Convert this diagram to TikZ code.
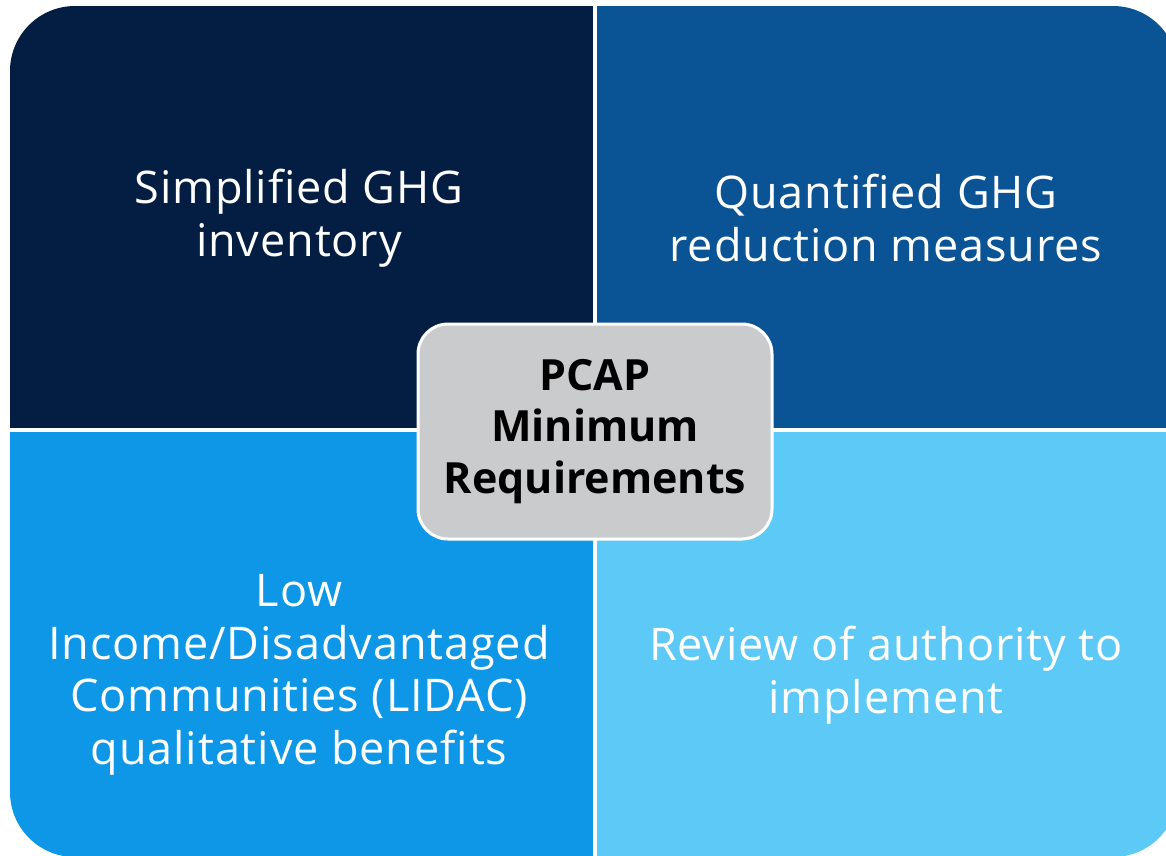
\documentclass[tikz,border=0pt]{standalone}
\usepackage{fontspec}
\setmainfont[Ligatures={NoCommon}]{Open Sans}
\newfontfamily\quadfont[Ligatures={NoCommon},LetterSpace=2]{Open Sans}
\definecolor{qnavy}{HTML}{031E42}
\definecolor{qblue}{HTML}{0A5395}
\definecolor{qmid}{HTML}{0E97E7}
\definecolor{qlight}{HTML}{5CC9F6}
\definecolor{cgray}{HTML}{CACBCD}
\tikzset{
  qtext/.style={text=white, font=\quadfont\fontsize{45}{52.5}\selectfont, align=center, inner sep=0pt},
  centerbox/.style={draw=white, line width=3pt, fill=cgray, rounded corners=30pt,
    minimum width=354pt, minimum height=215pt, align=center,
    font=\bfseries\fontsize{43}{51.5}\selectfont, text=black, inner sep=0pt},
  divider/.style={white, line width=3.5pt}
}
\begin{document}
\begin{tikzpicture}[x=1pt,y=-1pt]
\useasboundingbox (0,0) rectangle (1166,855);
\begin{scope}
  \clip (0,0) rectangle (1166,855);
  \begin{scope}
    \clip[rounded corners=65pt] (10,6) rectangle (1178,857);
    \fill[qnavy] (10,6) rectangle (595,430);
    \fill[qblue] (595,6) rectangle (1178,430);
    \fill[qmid] (10,430) rectangle (595,857);
    \fill[qlight] (595,430) rectangle (1178,857);
  \end{scope}
  \coordinate (vtop) at (595,0);
  \coordinate (vbot) at (595,860);
  \coordinate (hl) at (0,430);
  \coordinate (hr) at (1180,430);
  \draw[divider] (vtop) -- (vbot);
  \draw[divider] (hl) -- (hr);
\end{scope}
\node[qtext] (tl) at (299,218) {Simplified GHG\\inventory};
\node[qtext] (tr) at (886,218) {Quantified GHG\\reduction measures};
\node[qtext] (bl) at (299,675) {Low\\Income/Disadvantaged\\Communities (LIDAC)\\qualitative benefits};
\node[qtext] (br) at (886,675) {Review of authority to\\implement};
\node[centerbox] (c) at (595,431.5) {PCAP\\Minimum\\Requirements};
\end{tikzpicture}
\end{document}
